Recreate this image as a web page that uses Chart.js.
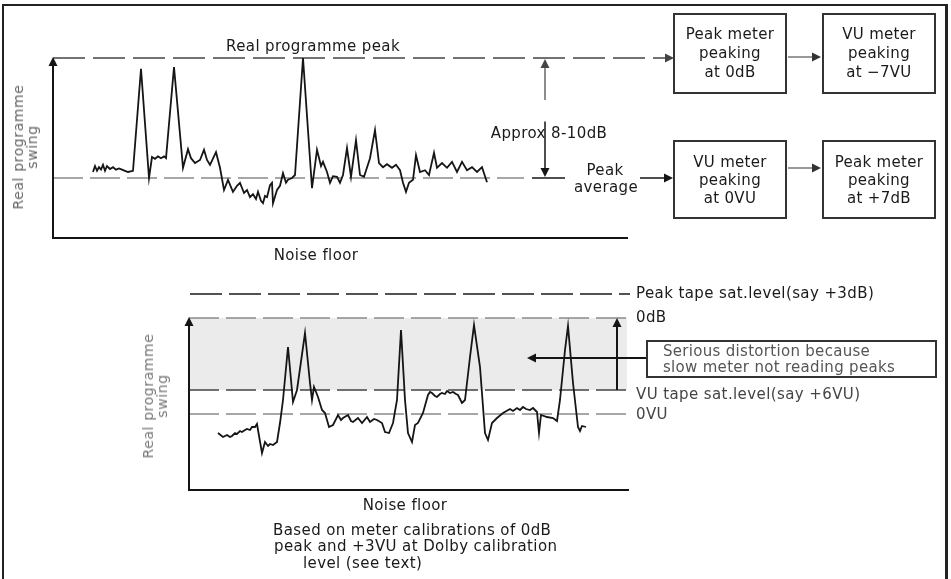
<!DOCTYPE html>
<html lang="en">
<head>
<meta charset="UTF-8" />
<title>Programme peaks vs meter readings</title>
<script src="https://cdn.jsdelivr.net/npm/chart.js"></script>
<style>
  body { margin: 0; background: #fff; }
  #page { position: relative; width: 951px; height: 579px; overflow: hidden; font-family: "DejaVu Sans", sans-serif; color: #1a1a1a; }
  #page canvas { position: absolute; left: 0; top: 0; }
  .frame { position: absolute; left: 2px; top: 4px; width: 941px; height: 620px; border: 2px solid #222; border-right-width: 3px; }
  .lbl { position: absolute; white-space: nowrap; font-size: 15px; letter-spacing: 0.4px; line-height: 16px; }
  .c { transform: translate(-50%, -50%); }
  .l { transform: translateY(-50%); }
  .rot { position: absolute; transform: translate(-50%, -50%) rotate(-90deg); text-align: center; font-size: 14px; letter-spacing: 0.6px; line-height: 14px; color: #666; white-space: nowrap; }
  .box { position: absolute; box-sizing: border-box; border: 2px solid #333; display: flex; align-items: center; justify-content: center; text-align: center; font-size: 15px; letter-spacing: 0.3px; line-height: 19px; }
</style>
</head>
<body>
<div id="page">
  <div class="frame"></div>
  <canvas id="topChart" width="951" height="579"></canvas>
  <canvas id="botChart" width="951" height="579"></canvas>

  <div class="rot" style="left:25px; top:147px">Real programme<br>swing</div>
  <div class="lbl c" style="left:313px; top:46px">Real programme peak</div>
  <div class="lbl c" style="left:549px; top:133px">Approx 8-10dB</div>
  <div class="lbl c" style="left:605px; top:170px">Peak</div>
  <div class="lbl c" style="left:606px; top:187px">average</div>
  <div class="lbl c" style="left:316px; top:255px">Noise floor</div>

  <div class="box" style="left:673px; top:13px; width:114px; height:81px">Peak meter<br>peaking<br>at 0dB</div>
  <div class="box" style="left:822px; top:13px; width:114px; height:81px">VU meter<br>peaking<br>at −7VU</div>
  <div class="box" style="left:673px; top:140px; width:114px; height:79px; line-height:18px">VU meter<br>peaking<br>at 0VU</div>
  <div class="box" style="left:822px; top:140px; width:114px; height:79px; line-height:18px">Peak meter<br>peaking<br>at +7dB</div>

  <div class="rot" style="left:155px; top:396px; color:#777">Real programme<br>swing</div>
  <div class="lbl l" style="left:636px; top:293px">Peak tape sat.level(say +3dB)</div>
  <div class="lbl l" style="left:636px; top:317px">0dB</div>
  <div class="lbl l" style="left:636px; top:394px; color:#444">VU tape sat.level(say +6VU)</div>
  <div class="lbl l" style="left:636px; top:414px; color:#444">0VU</div>
  <div class="box" style="left:646px; top:340px; width:291px; height:38px; justify-content:flex-start; text-align:left; padding-left:15px; line-height:16px; color:#555">Serious distortion because<br>slow meter not reading peaks</div>
  <div class="lbl c" style="left:405px; top:505px">Noise floor</div>
  <div class="lbl l" style="left:273px; top:530px">Based on meter calibrations of 0dB</div>
  <div class="lbl l" style="left:274px; top:546px">peak and +3VU at Dolby calibration</div>
  <div class="lbl l" style="left:303px; top:563px">level (see text)</div>
</div>

<script>
"use strict";
// upper sketch: time (arbitrary units) and level relative to peak average (dB)
const topTime = [
  8.0, 8.4, 8.8, 9.2, 9.6, 10.0, 10.4, 10.8, 11.4, 12.0, 12.6, 13.2, 13.8, 14.4, 15.0, 16.0,
  17.6, 19.2, 19.8, 20.4, 21.0, 21.6, 22.2, 22.6, 24.2, 26.0, 27.0, 27.6, 28.4, 29.4,
  30.2, 30.8, 31.4, 32.6, 33.4, 34.2, 35.0, 36.0, 36.8, 37.4, 38.2, 38.8, 39.4, 40.0,
  40.6, 41.0, 41.6, 42.0, 42.4, 42.8, 43.4, 43.8, 44.0, 44.8, 45.4, 46.0, 46.6, 47.0,
  47.8, 48.4, 50.0, 51.8, 52.8, 53.6, 54.0, 54.8, 55.4, 56.0, 56.8, 57.4, 58.0, 58.8,
  59.6, 60.6, 61.4, 62.2, 63.4, 64.4, 65.2, 66.0, 66.8, 67.8, 68.6, 69.4, 70.0, 70.6,
  71.2, 72.0, 72.6, 73.4, 74.4, 75.2, 76.2, 76.8, 77.8, 78.8, 79.8, 80.8, 81.8, 82.8,
  83.8, 84.8, 85.8, 86.2, 86.8
];
const topLevel = [
  0.5, 1.0, 0.6, 0.9, 0.7, 1.1, 0.6, 1.0, 0.75, 0.9, 0.7, 0.8, 0.7, 0.6, 0.5, 0.6,
  9.1, 0, 1.75, 1.6, 1.8, 1.65, 1.8, 1.65, 9.25, 0.85, 2.4, 1.65, 1.25, 1.5,
  2.35, 1.5, 1.1, 2.15, 0.85, -1.0, -0.15, -1.15, -0.65, -0.4, -1.25, -1.0, -1.6, -1.35,
  -1.75, -1.15, -1.9, -2.1, -1.5, -1.6, -0.6, -0.4, -2.1, -1.0, -0.65, 0.4, -0.4, -0.15,
  0, 0.25, 10.0, -0.85, 2.35, 1.0, 1.35, 0.5, -0.4, 0.15, 0.1, -0.4, 0.25, 2.5,
  0.1, 3.15, 0.25, 0.1, 1.65, 4.0, 1.25, 0.9, 1.15, 0.85, 1.1, 0.65, -0.4, -1.15,
  -0.4, -0.15, 1.9, 0.5, 0.65, 0.25, 2.1, 0.85, 1.25, 0.85, 1.35, 0.5, 1.35, 0.65,
  0.9, 0.5, 0.9, 0.4, -0.35
];
const topTimeRange = [0, 115];
const topLevelRange = [-5, 10];
const topPeakLevel = 10;    // real programme peak
const topAverageLevel = 0;  // peak average

// lower sketch: time and level in VU (0VU = 0)
const botTime = [
  5.8, 6.8, 7.6, 8.2, 8.6, 9.2, 9.6, 10.2, 10.6, 11.2, 11.6, 12.2, 12.6, 13.2, 13.6, 13.8,
  14.6, 15.2, 15.8, 16.2, 16.8, 17.6, 18.2, 18.8, 19.8, 20.8, 21.6, 23.2, 24.2, 24.6,
  25.0, 25.8, 26.6, 27.2, 28.0, 28.8, 29.8, 30.4, 30.8, 31.8, 32.4, 32.8, 33.8, 34.6,
  35.6, 36.2, 37.0, 37.6, 38.6, 39.2, 40.0, 40.8, 41.6, 42.4, 43.2, 43.8, 44.6, 45.2,
  45.8, 46.8, 47.8, 48.2, 48.6, 49.2, 49.6, 50.2, 50.6, 51.2, 51.6, 52.2, 52.8, 53.4,
  53.8, 54.6, 55.2, 56.2, 57.0, 58.2, 59.2, 59.8, 60.6, 61.6, 62.8, 64.2, 64.8, 65.6,
  66.2, 66.8, 67.4, 68.2, 68.8, 69.6, 70.0, 70.4, 71.6, 72.8, 73.6, 74.2, 75.2, 75.8,
  76.8, 77.8, 78.2, 78.6, 79.4
];
const botLevel = [
  -4.75, -5.75, -5.25, -5.75, -5.5, -4.75, -5.0, -4.25, -4.5, -4.0, -3.75, -4.0, -3.25, -3.25, -2.5, -4.0,
  -9.75, -7.0, -8.0, -7.5, -7.75, -7.0, -2.25, 3.5, 16.75, 3.0, 6.0, 20.25, 7.75, 3.5,
  6.75, 4.25, 1.0, 0.25, -3.25, -2.75, -0.25, -1.5, -1.0, -0.25, -1.75, -2.0, -1.0, -2.25,
  -0.75, -2.0, -1.25, -1.5, -2.25, -4.5, -4.75, -2.25, 3.5, 21.0, 3.5, -4.75, -7.0, -2.75,
  -2.25, 0.25, 4.75, 5.5, 5.25, 4.5, 4.25, 5.0, 5.25, 5.0, 5.75, 5.25, 5.5, 5.0,
  4.75, 2.75, 3.5, 14.25, 22.25, 11.75, -4.75, -6.5, -2.25, -1.0, 0.25, 1.25, 0.75, 1.5,
  1.0, 1.75, 1.25, 1.0, 1.5, 0.5, -4.75, -0.25, -0.75, -1.0, -1.75, 3.5, 16.0, 22.0,
  7.75, -3.25, -4.25, -3.0, -3.25
];
const botTimeRange = [0, 88];
const botLevelRange = [-19, 30];
const botPeakTapeSat = 30;
const botZeroDB = 24;
const botVuTapeSat = 6;
const botZeroVU = 0;

function pts(xs, ys) { return xs.map((x, i) => ({ x: x, y: ys[i] })); }
function hline(y, x0, x1) { return [{ x: x0, y: y }, { x: x1, y: y }]; }

function head(ctx, x, y, dir) {
  const L = 9, W = 4.5;
  ctx.beginPath();
  if (dir === "up") { ctx.moveTo(x, y); ctx.lineTo(x - W, y + L); ctx.lineTo(x + W, y + L); }
  if (dir === "down") { ctx.moveTo(x, y); ctx.lineTo(x - W, y - L); ctx.lineTo(x + W, y - L); }
  if (dir === "right") { ctx.moveTo(x, y); ctx.lineTo(x - L, y - W); ctx.lineTo(x - L, y + W); }
  if (dir === "left") { ctx.moveTo(x, y); ctx.lineTo(x + L, y - W); ctx.lineTo(x + L, y + W); }
  ctx.closePath();
  ctx.fill();
}
function seg(ctx, x0, y0, x1, y1) {
  ctx.beginPath(); ctx.moveTo(x0, y0); ctx.lineTo(x1, y1); ctx.stroke();
}

const common = {
  responsive: false,
  animation: false,
  events: [],
  plugins: { legend: { display: false }, tooltip: { enabled: false } },
  elements: { point: { radius: 0 }, line: { tension: 0 } }
};

new Chart(document.getElementById("topChart"), {
  type: "line",
  data: {
    datasets: [
      { data: pts(topTime, topLevel), borderColor: "#151515", borderWidth: 1.8, clip: false },
      { data: hline(topPeakLevel, 0, 123.2), borderColor: "#444", borderWidth: 1.5, borderDash: [32, 8], clip: false },
      { data: hline(topAverageLevel, 0, 94.2), borderColor: "#8a8a8a", borderWidth: 1.5, borderDash: [30, 7], clip: false },
      { data: hline(topAverageLevel, 95.8, 102.4), borderColor: "#151515", borderWidth: 1.5, clip: false }
    ]
  },
  options: Object.assign({}, common, {
    layout: { padding: { left: 53, right: 323, top: 58, bottom: 341 } },
    scales: {
      x: { type: "linear", min: topTimeRange[0], max: topTimeRange[1], display: false },
      y: { type: "linear", min: topLevelRange[0], max: topLevelRange[1], display: false }
    }
  }),
  plugins: [{
    id: "topDecor",
    afterDraw(chart) {
      const ctx = chart.ctx, sx = chart.scales.x, sy = chart.scales.y;
      const px = v => sx.getPixelForValue(v), py = v => sy.getPixelForValue(v);
      ctx.save();
      ctx.strokeStyle = "#151515"; ctx.fillStyle = "#151515"; ctx.lineWidth = 2;
      // axes
      seg(ctx, px(0), py(-5) + 1, px(0), py(10) + 6);
      head(ctx, px(0), py(10) - 1, "up");
      seg(ctx, px(0) - 1, py(-5), px(115), py(-5));
      // peak line into first box
      ctx.fillStyle = "#444";
      head(ctx, px(124.2), py(topPeakLevel), "right");
      ctx.fillStyle = "#151515";
      // 8-10dB span
      ctx.lineWidth = 1.5;
      ctx.strokeStyle = "#666"; ctx.fillStyle = "#444";
      seg(ctx, px(98.4), py(10) + 6, px(98.4), py(6.5));
      head(ctx, px(98.4), py(10) + 1, "up");
      ctx.strokeStyle = "#151515"; ctx.fillStyle = "#151515";
      seg(ctx, px(98.4), py(4.7), px(98.4), py(0) - 6);
      head(ctx, px(98.4), py(0) - 1, "down");
      // average -> VU box, and box to box arrows
      seg(ctx, 640, py(0), 667, py(0));
      head(ctx, 673, py(0), "right");
      ctx.strokeStyle = "#777"; ctx.fillStyle = "#333";
      seg(ctx, 788, 57, 815, 57); head(ctx, 821, 57, "right");
      seg(ctx, 788, 168, 815, 168); head(ctx, 821, 168, "right");
      ctx.restore();
    }
  }]
});

new Chart(document.getElementById("botChart"), {
  type: "line",
  data: {
    datasets: [
      { data: pts(botTime, botLevel), borderColor: "#151515", borderWidth: 1.8, clip: false },
      { data: hline(botPeakTapeSat, 0.2, 88.2), borderColor: "#1a1a1a", borderWidth: 1.5, borderDash: [32, 7], clip: false },
      { data: hline(botZeroDB, 0, 88), borderColor: "#8a8a8a", borderWidth: 1.5, borderDash: [30, 7], clip: false },
      { data: hline(botVuTapeSat, 0, 88), borderColor: "#444", borderWidth: 1.5, borderDash: [30, 7], clip: false },
      { data: hline(botZeroVU, 0, 88), borderColor: "#8a8a8a", borderWidth: 1.5, borderDash: [30, 7], clip: false },
      { data: hline(botVuTapeSat, 0, 87.6), borderWidth: 0, borderColor: "rgba(0,0,0,0)", backgroundColor: "#ebebeb", fill: { value: botZeroDB } }
    ]
  },
  options: Object.assign({}, common, {
    layout: { padding: { left: 189, right: 322, top: 294, bottom: 89 } },
    scales: {
      x: { type: "linear", min: botTimeRange[0], max: botTimeRange[1], display: false },
      y: { type: "linear", min: botLevelRange[0], max: botLevelRange[1], display: false }
    }
  }),
  plugins: [{
    id: "botDecor",
    afterDraw(chart) {
      const ctx = chart.ctx, sx = chart.scales.x, sy = chart.scales.y;
      const px = v => sx.getPixelForValue(v), py = v => sy.getPixelForValue(v);
      ctx.save();
      ctx.strokeStyle = "#151515"; ctx.fillStyle = "#151515"; ctx.lineWidth = 2;
      seg(ctx, px(0), py(-19) + 1, px(0), py(botZeroDB) + 6);
      head(ctx, px(0), py(botZeroDB) - 1, "up");
      seg(ctx, px(0) - 1, py(-19), px(88), py(-19));
      // saturation span arrow
      seg(ctx, px(85.6), py(botVuTapeSat), px(85.6), py(botZeroDB) + 6);
      head(ctx, px(85.6), py(botZeroDB), "up");
      // distortion pointer
      seg(ctx, px(91.4), py(14), px(67.6) + 6, py(14));
      head(ctx, px(67.6), py(14), "left");
      ctx.restore();
    }
  }]
});
</script>
</body>
</html>
